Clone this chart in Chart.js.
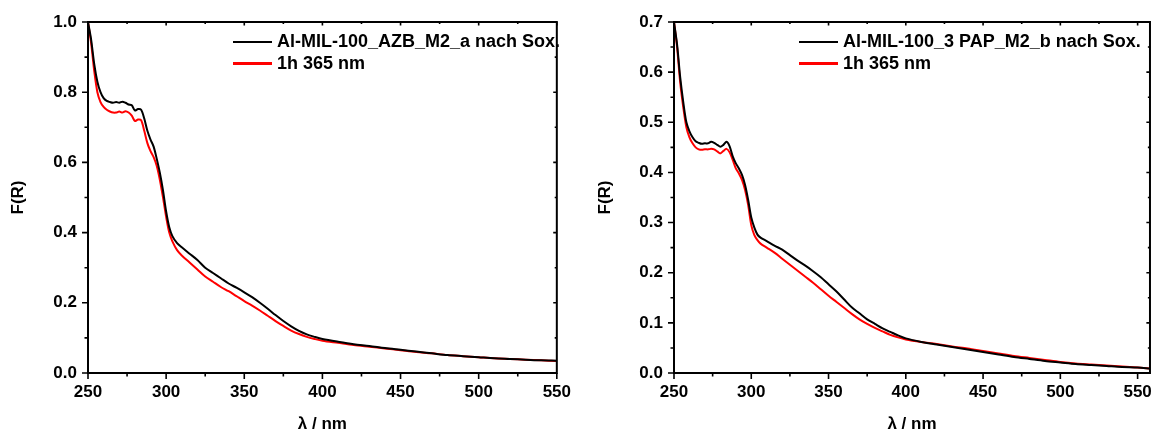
<!DOCTYPE html>
<html>
<head>
<meta charset="utf-8">
<title>F(R) spectra</title>
<script src="https://cdn.jsdelivr.net/npm/chart.js@4.4.1/dist/chart.umd.min.js"></script>
<style>
  html, body { margin: 0; padding: 0; background: #fff; }
  body { width: 1161px; height: 435px; position: relative; overflow: hidden; font-family: "Liberation Sans", Arial, sans-serif; }
  .panel { position: absolute; top: 0; height: 435px; }
  .legend { position: absolute; font-weight: bold; font-size: 18px; line-height: 21.5px; color: #000; white-space: nowrap; }
  .legend .row { display: flex; align-items: center; }
  .legend .swatch { display: inline-block; width: 39px; height: 2.5px; margin-right: 5px; }
</style>
</head>
<body>
<div class="panel" style="left:0;width:580px">
  <canvas id="chartAzb" width="580" height="435"></canvas>
  <div class="legend" id="legendAzb" style="left:233px;top:31px"></div>
</div>
<div class="panel" style="left:580px;width:581px">
  <canvas id="chartPap" width="581" height="435"></canvas>
  <div class="legend" id="legendPap" style="left:219px;top:31px"></div>
</div>
<script>
// Left panel: Al-MIL-100_AZB_M2_a
const azbWavelengths = [250, 252, 254, 256, 258, 260, 262, 264, 266, 268, 270, 272, 274, 276, 278, 280, 282, 284, 286, 288, 290, 292, 294, 296, 298, 300,
  302, 304, 307,
  310, 315, 320, 325, 330, 335, 340, 345, 350, 355, 360, 365, 370, 375, 380, 385, 390, 395, 400,
  410, 420, 430, 440, 450, 460, 470, 480, 490, 500, 510, 520, 530, 540, 550];
const azbSoxValues = [1.0, 0.95, 0.88, 0.83, 0.80, 0.783, 0.775, 0.772, 0.770, 0.772, 0.770, 0.773, 0.770, 0.765, 0.763, 0.748, 0.752, 0.750, 0.725, 0.69, 0.665, 0.645, 0.61, 0.57, 0.52, 0.46,
  0.415, 0.39, 0.37,
  0.358, 0.34, 0.322, 0.30, 0.285, 0.27, 0.255, 0.243, 0.23, 0.216, 0.20, 0.183, 0.165, 0.148, 0.133, 0.12, 0.11, 0.103, 0.097,
  0.089, 0.082, 0.077, 0.071, 0.066, 0.061, 0.056, 0.051, 0.048, 0.045, 0.042, 0.040, 0.038, 0.036, 0.035];
const azb365Values = [1.0, 0.94, 0.86, 0.80, 0.772, 0.758, 0.750, 0.745, 0.742, 0.742, 0.745, 0.742, 0.746, 0.742, 0.733, 0.718, 0.722, 0.72, 0.69, 0.655, 0.632, 0.615, 0.59, 0.55, 0.50, 0.445,
  0.40, 0.375, 0.35,
  0.335, 0.315, 0.295, 0.275, 0.26, 0.245, 0.233, 0.219, 0.205, 0.192, 0.178, 0.163, 0.148, 0.134, 0.121, 0.111, 0.103, 0.097, 0.092,
  0.086, 0.080, 0.075, 0.070, 0.065, 0.060, 0.056, 0.051, 0.048, 0.045, 0.042, 0.040, 0.038, 0.036, 0.034];

// Right panel: Al-MIL-100_3 PAP_M2_b
const papWavelengths = [250, 252, 254, 256, 258, 260, 262, 264, 266, 268, 270, 272, 274, 276, 278, 280, 282, 284, 286, 288, 290, 292, 294, 296, 298, 300,
  302, 304, 306,
  310, 315, 320, 325, 330, 335, 340, 345, 350, 355, 360, 365, 370, 375, 380, 385, 390, 395, 400,
  410, 420, 430, 440, 450, 460, 470, 480, 490, 500, 510, 520, 530, 540, 550, 558];
const papSoxValues = [0.70, 0.655, 0.59, 0.54, 0.50, 0.482, 0.47, 0.462, 0.459, 0.457, 0.458, 0.458, 0.461, 0.459, 0.455, 0.451, 0.455, 0.461, 0.452, 0.432, 0.418, 0.408, 0.395, 0.375, 0.345, 0.31,
  0.29, 0.276, 0.27,
  0.263, 0.254, 0.246, 0.235, 0.224, 0.214, 0.203, 0.191, 0.177, 0.163, 0.147, 0.131, 0.119, 0.107, 0.098, 0.089, 0.082, 0.075, 0.069,
  0.062, 0.057, 0.052, 0.047, 0.042, 0.037, 0.032, 0.028, 0.024, 0.021, 0.018, 0.016, 0.014, 0.012, 0.011, 0.009];
const pap365Values = [0.70, 0.65, 0.58, 0.53, 0.49, 0.47, 0.458, 0.45, 0.446, 0.445, 0.446, 0.446, 0.447, 0.446, 0.442, 0.438, 0.443, 0.447, 0.44, 0.425, 0.408, 0.398, 0.385, 0.365, 0.335, 0.295,
  0.275, 0.265, 0.258,
  0.25, 0.24, 0.228, 0.216, 0.204, 0.192, 0.18, 0.167, 0.154, 0.142, 0.13, 0.118, 0.107, 0.098, 0.09, 0.083, 0.076, 0.071, 0.067,
  0.062, 0.058, 0.053, 0.049, 0.044, 0.039, 0.034, 0.03, 0.026, 0.022, 0.019, 0.017, 0.015, 0.013, 0.011, 0.009];

const azbLabels = ['Al-MIL-100_AZB_M2_a nach Sox.', '1h 365 nm'];
const papLabels = ['Al-MIL-100_3 PAP_M2_b nach Sox.', '1h 365 nm'];

const FONT = '"Liberation Sans", Arial, sans-serif';
Chart.defaults.font.family = FONT;
Chart.defaults.color = '#000';

// Box around the plot, outward ticks on bottom/left, inward ticks on top/right
const frameTicks = {
  id: 'frameTicks',
  afterDraw(chart) {
    const { ctx, chartArea: a, scales: { x, y } } = chart;
    ctx.save();
    ctx.strokeStyle = '#000';
    ctx.lineWidth = 2;
    ctx.strokeRect(a.left, a.top, a.right - a.left, a.bottom - a.top);
    ctx.lineWidth = 1.6;
    ctx.beginPath();
    const xs = x.ticks.map(t => t.value);
    const xHalf = (xs[1] - xs[0]) / 2;
    for (let k = 0; xs[0] + k * xHalf <= x.max + 1e-9; k++) {
      const px = x.getPixelForValue(xs[0] + k * xHalf);
      const len = k % 2 === 0 ? 6 : 3.5;
      ctx.moveTo(px, a.bottom); ctx.lineTo(px, a.bottom + len);
      ctx.moveTo(px, a.top); ctx.lineTo(px, a.top + len * 0.6);
    }
    const ys = y.ticks.map(t => t.value);
    const yHalf = (ys[1] - ys[0]) / 2;
    for (let k = 0; ys[0] + k * yHalf <= y.max + 1e-9; k++) {
      const py = y.getPixelForValue(ys[0] + k * yHalf);
      const len = k % 2 === 0 ? 6 : 3.5;
      ctx.moveTo(a.left, py); ctx.lineTo(a.left - len, py);
      ctx.moveTo(a.right, py); ctx.lineTo(a.right - len * 0.6, py);
    }
    ctx.stroke();
    ctx.restore();
  }
};

// Legend as html, built from the datasets
const htmlLegend = {
  id: 'htmlLegend',
  afterUpdate(chart, args, opts) {
    const box = document.getElementById(opts.containerID);
    box.innerHTML = '';
    chart.options.plugins.legend.labels.generateLabels(chart).forEach(item => {
      const row = document.createElement('div');
      row.className = 'row';
      const sw = document.createElement('span');
      sw.className = 'swatch';
      sw.style.background = item.strokeStyle;
      row.appendChild(sw);
      row.appendChild(document.createTextNode(item.text));
      box.appendChild(row);
    });
  }
};

function makeChart(canvasId, legendId, wavelengths, soxValues, uvValues, labels, cfg) {
  const tickFont = { size: 17, weight: 'bold' };
  return new Chart(document.getElementById(canvasId), {
    type: 'line',
    data: {
      datasets: [
        {
          label: labels[0],
          data: wavelengths.map((w, i) => ({ x: w, y: soxValues[i] })),
          borderColor: '#000000',
          borderWidth: 2,
          pointRadius: 0,
          tension: 0.3
        },
        {
          label: labels[1],
          data: wavelengths.map((w, i) => ({ x: w, y: uvValues[i] })),
          borderColor: '#ff0000',
          borderWidth: 2,
          pointRadius: 0,
          tension: 0.3
        }
      ]
    },
    options: {
      responsive: false,
      animation: false,
      layout: { padding: { top: 22, right: cfg.padRight, left: 0, bottom: 0 } },
      scales: {
        x: {
          type: 'linear',
          min: 250,
          max: cfg.xMax,
          afterFit: s => { s.height = 62; },
          grid: { display: false, drawTicks: false },
          border: { display: false },
          ticks: { stepSize: 50, includeBounds: false, padding: 9, font: tickFont, color: '#000', maxRotation: 0 },
          title: { display: true, text: 'λ / nm', font: { size: 17, weight: 'bold' }, color: '#000', padding: { top: 0, bottom: 0 } }
        },
        y: {
          min: 0,
          max: cfg.yMax,
          afterFit: s => { s.width = cfg.yWidth; },
          grid: { display: false, drawTicks: false },
          border: { display: false },
          ticks: { stepSize: cfg.yStep, padding: 11, font: tickFont, color: '#000', callback: v => v.toFixed(1) },
          title: { display: true, text: 'F(R)', font: { size: 17, weight: 'bold' }, color: '#000', padding: { top: cfg.titlePad, bottom: 0 } }
        }
      },
      plugins: {
        legend: { display: false },
        tooltip: { enabled: false },
        htmlLegend: { containerID: legendId }
      }
    },
    plugins: [frameTicks, htmlLegend]
  });
}

makeChart('chartAzb', 'legendAzb', azbWavelengths, azbSoxValues, azb365Values, azbLabels,
  { xMax: 550, yMax: 1.0, yStep: 0.2, yWidth: 88, padRight: 12, titlePad: 8 });
makeChart('chartPap', 'legendPap', papWavelengths, papSoxValues, pap365Values, papLabels,
  { xMax: 558, yMax: 0.7, yStep: 0.1, yWidth: 94, padRight: 8, titlePad: 15 });
</script>
</body>
</html>
